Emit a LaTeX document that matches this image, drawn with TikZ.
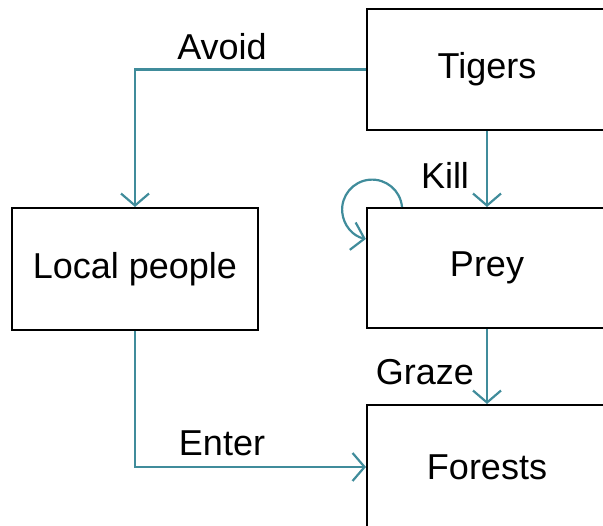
\documentclass[tikz,border=0pt]{standalone}
\usepackage{fontspec}
\setmainfont{Liberation Sans}
\usetikzlibrary{arrows.meta}
\definecolor{linkteal}{RGB}{64,140,155}

\begin{document}
\begin{tikzpicture}[x=1pt, y=1pt,
        box/.style={rectangle, draw=black, line width=2pt, fill=white, inner sep=0pt},
        link/.style={line width=2.2pt, linkteal, -{Straight Barb[length=12pt, width=28pt]}},
        lbl/.style={inner sep=0pt},
        font=\fontsize{36}{42}\selectfont]
        \useasboundingbox (0,0) rectangle (603,526);
        \clip (0,0) rectangle (603,526);

        \node[box, minimum width=240, minimum height=121] (tig) at (487,456.5) {Tigers};
        \node[box, minimum width=246, minimum height=122] (loc) at (135,257) {Local people};
        \node[box, minimum width=240, minimum height=120] (prey) at (487,258) {Prey};
        \node[box, minimum width=240, minimum height=124] (for) at (487,59) {Forests};

        \node[lbl] (avoid) at (222,479) {Avoid};
        \node[lbl] (kill) at (445,351) {Kill};
        \node[lbl] (graze) at (425,154) {Graze};
        \node[lbl] (enter) at (222,83) {Enter};

        \coordinate (loopstart) at ([xshift=36]prey.north west);

        \draw[link] (tig.west) -| (loc.north);
        \draw[link] (tig.south) -- (prey.north);
        \draw[link] (prey.south) -- (for.north);
        \draw[link] (loc.south) |- (for.west);
        \draw[link] (loopstart) arc[start angle=5, end angle=258, radius=30];
    \end{tikzpicture}
\end{document}
